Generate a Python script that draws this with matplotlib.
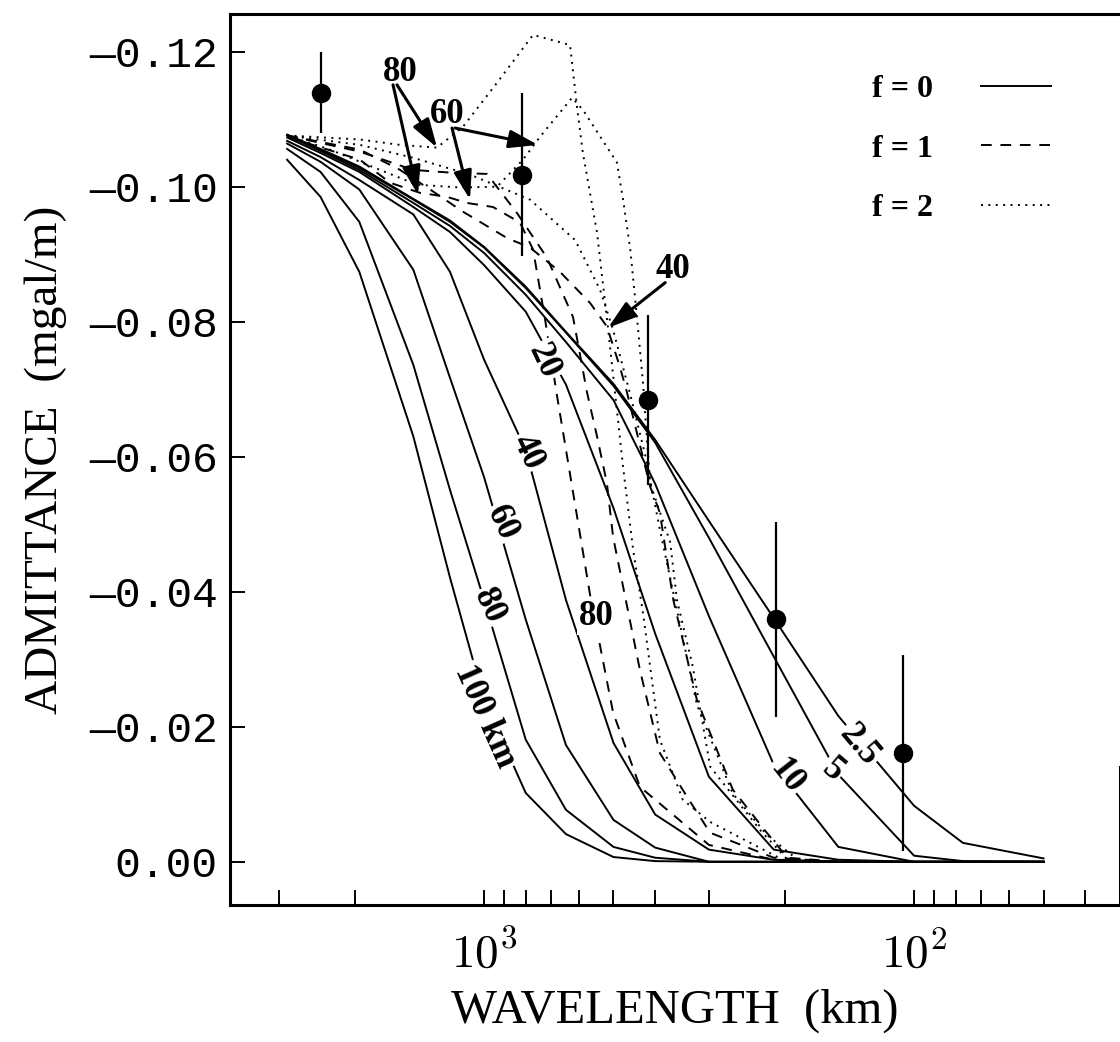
import matplotlib.pyplot as plt
import matplotlib.ticker as mticker
from matplotlib.lines import Line2D
import numpy as np

plt.rcParams['mathtext.fontset'] = 'cm'

# wavelength grid (km) of the f = 0 model curves
wl = [2870, 2400, 1950, 1460, 1200, 1000, 800, 645, 500, 400, 300, 212, 150, 100, 77, 50]

# f = 0 admittance (mgal/m), one list per elastic thickness
te_100 = [-0.1040, -0.0985, -0.0874, -0.0630, -0.0421, -0.0240, -0.0102, -0.0041, -0.0007, -0.0001, 0, 0, 0, 0, 0, 0]
te_80 = [-0.1056, -0.1022, -0.0948, -0.0736, -0.0551, -0.0388, -0.0181, -0.0077, -0.0022, -0.0006, 0, 0, 0, 0, 0, 0]
te_60 = [-0.1064, -0.1037, -0.0996, -0.0877, -0.0717, -0.0570, -0.0359, -0.0173, -0.0062, -0.0021, 0, 0, 0, 0, 0, 0]
te_40 = [-0.1068, -0.1044, -0.1010, -0.0959, -0.0874, -0.0744, -0.0610, -0.0388, -0.0176, -0.0070, -0.0018, -0.0003, 0, 0, 0, 0]
te_20 = [-0.1073, -0.1050, -0.1022, -0.0970, -0.0933, -0.0884, -0.0815, -0.0707, -0.0524, -0.0338, -0.0126, -0.0018, -0.0003, 0, 0, 0]
te_10 = [-0.1076, -0.1053, -0.1025, -0.0976, -0.0942, -0.0902, -0.0840, -0.0770, -0.0684, -0.0560, -0.0364, -0.0144, -0.0022, 0, 0, 0]
te_5 = [-0.1077, -0.1055, -0.1028, -0.0981, -0.0948, -0.0910, -0.0850, -0.0784, -0.0705, -0.0621, -0.0480, -0.0304, -0.0129, -0.0009, -0.0001, 0]
te_2p5 = [-0.1077, -0.1056, -0.1030, -0.0982, -0.0950, -0.0911, -0.0852, -0.0785, -0.0708, -0.0625, -0.0505, -0.0361, -0.0216, -0.0083, -0.0028, -0.0005]

# f = 1 curves (dashed)
f1_80_wl = [2870, 1943, 1654, 1409, 1219, 1095, 953, 825, 769, 721, 676, 567, 501, 434, 300, 212, 150]
f1_80 = [-0.1074, -0.1040, -0.1006, -0.0991, -0.0985, -0.0976, -0.0970, -0.0947, -0.0907, -0.0803, -0.0689,
         -0.0396, -0.0221, -0.0111, -0.0025, -0.0003, 0]
f1_60_wl = [2870, 1943, 1463, 1200, 984, 838, 714, 621, 576, 546, 518, 501, 434, 390, 337, 298, 212, 150]
f1_60 = [-0.1076, -0.1052, -0.1025, -0.1021, -0.1019, -0.0961, -0.0895, -0.0807, -0.0695, -0.0630, -0.0561,
         -0.0481, -0.0284, -0.0161, -0.0096, -0.0043, -0.0006, 0]
f1_40_wl = [2870, 1943, 1568, 1335, 1119, 884, 782, 666, 567, 518, 483, 465, 411, 390, 363, 320, 264, 220, 197, 149]
f1_40 = [-0.1076, -0.1055, -0.1025, -0.0996, -0.0963, -0.0924, -0.0910, -0.0874, -0.0828, -0.0793, -0.0733,
         -0.0695, -0.0556, -0.0517, -0.0388, -0.0240, -0.0107, -0.0043, -0.0006, 0]

# f = 2 curves (dotted)
f2_80_wl = [2870, 1943, 1568, 1286, 1119, 933, 769, 631, 608, 589, 546, 515, 475, 450, 427, 390, 345, 298, 202, 149]
f2_80 = [-0.1076, -0.1070, -0.1062, -0.1058, -0.1089, -0.1154, -0.1225, -0.1210, -0.1119, -0.1050, -0.0932,
         -0.0791, -0.0585, -0.0462, -0.0369, -0.0181, -0.0092, -0.0059, -0.0003, 0]
f2_60_wl = [2870, 2280, 1746, 1432, 1137, 933, 812, 741, 624, 589, 491, 475, 457, 441, 427, 411, 369, 356, 327,
            298, 228, 197, 149]
f2_60 = [-0.1076, -0.1055, -0.1025, -0.1003, -0.0999, -0.1000, -0.1040, -0.1074, -0.1132, -0.1114, -0.1036,
         -0.0981, -0.0907, -0.0807, -0.0710, -0.0561, -0.0473, -0.0388, -0.0289, -0.0141, -0.0047, -0.0003, 0]
f2_40_wl = [2870, 1943, 1463, 1078, 782, 614, 537, 501, 457, 422, 390, 360, 320, 264, 220, 184]
f2_40 = [-0.1076, -0.1062, -0.1043, -0.1018, -0.0981, -0.0921, -0.0847, -0.0788, -0.0692, -0.0603, -0.0492,
         -0.0388, -0.0233, -0.0101, -0.0040, 0]

# observed admittance with error bars
obs_wl = [2400, 815, 415, 210, 106]
obs_adm = [-0.1139, -0.1018, -0.0684, -0.0359, -0.0161]
obs_err = [0.0060, 0.0121, 0.0126, 0.0145, 0.0145]

# curve labels: text, wavelength, admittance, rotation
curve_labels = [('20', 729, -0.0741, -65), ('40', 794, -0.0607, -65), ('60', 908, -0.0502, -65),
                ('80', 973, -0.0378, -65), ('100 km', 995, -0.0215, -66), ('80', 549, -0.0363, 0),
                ('10', 198, -0.0127, -52), ('5', 155, -0.0136, -40), ('2.5', 134, -0.0173, -50)]

# arrow labels and arrows (tail -> head)
arrow_labels = [('80', 1568, -0.1170), ('60', 1219, -0.1107), ('40', 363, -0.0877)]
arrow_tail = [(1628, -0.1151), (1594, -0.1151), (1187, -0.1087), (1168, -0.1087), (379, -0.0858)]
arrow_head = [(1424, -0.0988), (1286, -0.1058), (1078, -0.0981), (749, -0.1062), (515, -0.0791)]

fig = plt.figure(figsize=(11.2, 10.42), dpi=100)
ax = fig.add_axes([0.2054, 0.1315, 0.7946, 0.8551])
ax.set_xscale('log')

lw = 1.4
for y in [te_100, te_80, te_60, te_40, te_20, te_10, te_5, te_2p5]:
    ax.plot(wl, y, color='k', lw=lw)
for x, y in [(f1_80_wl, f1_80), (f1_60_wl, f1_60), (f1_40_wl, f1_40)]:
    ax.plot(x, y, color='k', lw=lw, dashes=(5.5, 4.5))
for x, y in [(f2_80_wl, f2_80), (f2_60_wl, f2_60), (f2_40_wl, f2_40)]:
    ax.plot(x, y, color='k', lw=lw, dashes=(1, 2.8))

ax.errorbar(obs_wl, obs_adm, yerr=obs_err, fmt='o', color='k', ms=13,
            elinewidth=1.6, capsize=0, zorder=5)

bold = dict(family='Liberation Serif', weight='bold')
for txt, x, y, rot in curve_labels:
    ax.text(x, y, txt, rotation=rot, rotation_mode='anchor', ha='center', va='center',
            fontsize=25, fontdict=bold, zorder=4,
            bbox=dict(facecolor='white', edgecolor='none', pad=1.5))

for txt, x, y in arrow_labels:
    ax.text(x, y, txt, ha='center', va='center', fontsize=25, fontdict=bold, zorder=6)
for t, h in zip(arrow_tail, arrow_head):
    ax.annotate('', xy=h, xytext=t,
                arrowprops=dict(arrowstyle='-|>,head_length=0.7,head_width=0.22', lw=2.2,
                                color='k', shrinkA=0, shrinkB=0, mutation_scale=25),
                zorder=6)

# legend
handles = [Line2D([], [], color='k', lw=lw),
           Line2D([], [], color='k', lw=lw, dashes=(5.5, 4.5)),
           Line2D([], [], color='k', lw=lw, dashes=(1, 2.8))]
ax.legend(handles, ['f = 0', 'f = 1', 'f = 2'], loc='upper right', bbox_to_anchor=(0.923, 0.932),
          frameon=False, markerfirst=False, borderpad=0, borderaxespad=0,
          prop=dict(family='Liberation Serif', weight='bold', size=23),
          handlelength=2.2, handletextpad=1.5, labelspacing=0.95)

# axes
ax.set_xlim(3896, 33.2)
ax.set_ylim(0.0064, -0.1256)
ax.xaxis.set_major_locator(mticker.FixedLocator([1000, 100]))
ax.xaxis.set_minor_locator(mticker.FixedLocator([3000, 2000, 900, 800, 700, 600, 500, 400, 300, 200,
                                                 90, 80, 70, 60, 50, 40]))
ax.xaxis.set_major_formatter(mticker.FuncFormatter(lambda v, p: r'$10^{%d}$' % round(np.log10(v))))
ax.xaxis.set_minor_formatter(mticker.NullFormatter())
ax.set_yticks([-0.12, -0.10, -0.08, -0.06, -0.04, -0.02, 0.0])
ax.yaxis.set_major_formatter(mticker.FuncFormatter(lambda v, p: ('%.2f' % v).replace('-', '\u2014')))

ax.tick_params(axis='both', which='both', direction='in', length=11, width=1.4,
               top=False, right=False)
ax.tick_params(axis='x', which='both', pad=19, labelsize=34)
ax.tick_params(axis='y', pad=9)
for lab in ax.get_yticklabels():
    lab.set_family(['Liberation Mono', 'DejaVu Sans Mono'])
    lab.set_fontsize(31)

for sp in ax.spines.values():
    sp.set_linewidth(2.2)
# the scanned original only shows the lower end of the right frame line
ax.spines['right'].set_bounds(0.0064, -0.014)

ax.set_xlabel('WAVELENGTH  (km)', family='Liberation Serif', fontsize=35, labelpad=8)
ax.set_ylabel('ADMITTANCE  (mgal/m)', family='Liberation Serif', fontsize=34, labelpad=16)

fig.savefig('out.png', dpi=100)
